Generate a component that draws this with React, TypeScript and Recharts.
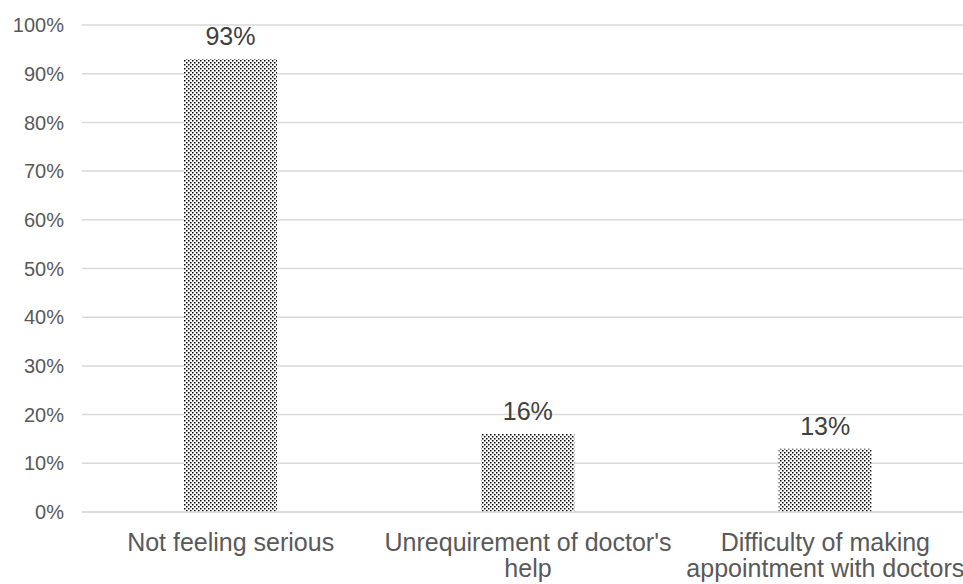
import React from "react";
import { Bar, BarChart, CartesianGrid, LabelList, XAxis, YAxis } from "recharts";

const categories = ["Not feeling serious", "Unrequirement of doctor's\nhelp", "Difficulty of making\nappointment with doctors"];
const values = [93, 16, 13];
const yTicks = [0, 10, 20, 30, 40, 50, 60, 70, 80, 90, 100];

const data = categories.map((name, i) => ({ name, value: values[i] }));

const FONT = "'Liberation Sans', Arial, sans-serif";

function CategoryTick(props) {
  const { x, y, payload } = props;
  const lines = String(payload.value).split("\n");
  return (
    <text x={x} y={y} textAnchor="middle" fill="#595959" fontSize={25} fontFamily={FONT}>
      {lines.map((line, i) => (
        <tspan key={i} x={x} dy={i === 0 ? 31 : 26}>
          {line}
        </tspan>
      ))}
    </text>
  );
}

export default function App() {
  return (
    <div style={{ position: "absolute", left: 0, top: 0, width: 963, height: 584, overflow: "hidden", background: "#fff" }}>
      <BarChart width={992} height={584} data={data} margin={{ top: 25, right: 18, left: 0, bottom: 0 }} barSize={93}>
        <defs>
          <pattern id="dots" width="4" height="4" patternUnits="userSpaceOnUse">
            <rect width="4" height="4" fill="#fff" />
            <rect x="0" y="0" width="1.5" height="1.5" fill="#000" />
            <rect x="2" y="2" width="1.5" height="1.5" fill="#000" />
          </pattern>
        </defs>
        <CartesianGrid vertical={false} stroke="#d9d9d9" strokeWidth={1.5} />
        <YAxis
          width={82}
          domain={[0, 100]}
          ticks={yTicks}
          interval={0}
          tickFormatter={(v) => `${v}%`}
          axisLine={false}
          tickLine={false}
          tickMargin={12}
          tick={{ fill: "#595959", fontSize: 20, fontFamily: FONT }}
        />
        <XAxis dataKey="name" height={72} axisLine={{ stroke: "#d9d9d9", strokeWidth: 1.5 }} tickLine={false} interval={0} tick={<CategoryTick />} />
        <Bar dataKey="value" fill="url(#dots)" isAnimationActive={false}>
          <LabelList
            dataKey="value"
            position="top"
            offset={14}
            formatter={(v) => `${v}%`}
            fill="#404040"
            fontSize={25}
            fontFamily={FONT}
          />
        </Bar>
      </BarChart>
    </div>
  );
}
